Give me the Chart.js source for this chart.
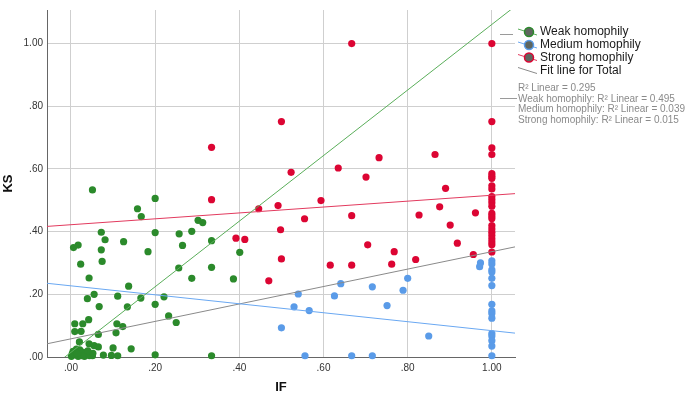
<!DOCTYPE html>
<html>
<head>
  <title>KS vs IF by homophily</title>
  <script src="https://cdn.jsdelivr.net/npm/chart.js"></script>
</head>
<body style="margin:0;background:#fff;">
  <canvas id="scatterChart" width="685" height="395"></canvas>

  <script>
    // Weak homophily (green)
    const weakIF = [0.051, 0.200, 0.158, 0.167, 0.072, 0.200, 0.081, 0.125, 0.006, 0.017, 0.072, 0.183, 0.074, 0.023,
      0.043, 0.137, 0.055, 0.039, 0.111, 0.166, 0.221, 0.067, 0.134, 0.200, 0.042, 0.009, 0.028, 0.109, 0.123, 0.009,
      0.024, 0.107, 0.065, 0.020, 0.043, 0.055, 0.065, 0.100, 0.143, 0.077, 0.111, 0.200, 0.051,
      0.005, 0.013, 0.021, 0.029, 0.036, 0.009, 0.017, 0.024, 0.032, 0.001, 0.044, 0.052, 0.096, 0.003, 0.014, 0.040,
      0.302, 0.313, 0.257, 0.287, 0.265, 0.334, 0.401, 0.256, 0.334, 0.287, 0.386, 0.232, 0.250, 0.334];
    const weakKS = [0.533, 0.506, 0.473, 0.448, 0.398, 0.397, 0.374, 0.368, 0.349, 0.357, 0.342, 0.336, 0.305, 0.296,
      0.252, 0.226, 0.200, 0.186, 0.194, 0.188, 0.192, 0.161, 0.160, 0.168, 0.119, 0.106, 0.106, 0.106, 0.097, 0.081,
      0.082, 0.077, 0.072, 0.048, 0.042, 0.036, 0.032, 0.029, 0.026, 0.006, 0.004, 0.007, 0.004,
      0.018, 0.025, 0.023, 0.015, 0.012, 0.007, 0.002, 0.004, 0.002, 0.002, 0.004, 0.012, 0.005, 0.010, 0.012, 0.020,
      0.436, 0.429, 0.393, 0.401, 0.356, 0.371, 0.334, 0.284, 0.286, 0.251, 0.249, 0.131, 0.110, 0.004];

    // Medium homophily (blue)
    const mediumIF = [1, 1, 1, 1, 1, 1, 1, 1, 1, 1, 1, 1, 1, 1, 1,
      0.973, 0.971, 0.800, 0.641, 0.716, 0.789, 0.540, 0.626, 0.530, 0.566, 0.751, 0.500, 0.850, 0.556, 0.667, 0.716];
    const mediumKS = [0.307, 0.297, 0.278, 0.271, 0.251, 0.228, 0.168, 0.147, 0.139, 0.124, 0.075, 0.067, 0.052, 0.035, 0.004,
      0.300, 0.288, 0.251, 0.234, 0.224, 0.213, 0.201, 0.195, 0.160, 0.148, 0.164, 0.093, 0.067, 0.004, 0.004, 0.004];

    // Strong homophily (red)
    const strongIF = [1, 1, 1, 1, 1, 1, 1, 1, 1, 1, 1, 1, 1, 1, 1, 1, 1, 1, 1, 1, 1, 1, 1, 1,
      0.334, 0.334, 0.446, 0.492, 0.392, 0.413, 0.498, 0.470, 0.500, 0.667, 0.500, 0.523, 0.732, 0.635, 0.701, 0.594,
      0.555, 0.667, 0.827, 0.705, 0.768, 0.616, 0.667, 0.762, 0.819, 0.865, 0.890, 0.876, 0.961, 0.901, 0.918, 0.956];
    const strongKS = [1.000, 0.751, 0.667, 0.646, 0.585, 0.577, 0.570, 0.546, 0.536, 0.512, 0.502, 0.492, 0.481, 0.458,
      0.450, 0.442, 0.419, 0.408, 0.398, 0.388, 0.377, 0.367, 0.358, 0.335,
      0.669, 0.502, 0.473, 0.483, 0.379, 0.375, 0.406, 0.243, 0.313, 1.000, 0.751, 0.589, 0.636, 0.603, 0.574, 0.499,
      0.441, 0.451, 0.453, 0.358, 0.336, 0.293, 0.293, 0.296, 0.311, 0.646, 0.538, 0.479, 0.460, 0.421, 0.363, 0.327];

    // linear fit lines: weak, medium, strong, total
    const fitNames = ['Weak homophily', 'Medium homophily', 'Strong homophily', 'Fit line for Total'];
    const fitIntercepts = [0.015, 0.227, 0.422, 0.058];
    const fitSlopes = [1.046, -0.143, 0.094, 0.278];
    const r2Labels = ['R\u00b2 Linear = 0.295', 'Weak homophily: R\u00b2 Linear = 0.495',
      'Medium homophily: R\u00b2 Linear = 0.039', 'Strong homophily: R\u00b2 Linear = 0.015'];

    const xMin = -0.057, xMax = 1.055;
    const pointColors = ['#2b8a2b', '#5a9be8', '#dc0533'];
    const lineColors = ['#5aae5a', '#6aa8f2', '#e23a5e', '#8a8a8a'];

    function toPoints(xs, ys) {
      return xs.map((x, i) => ({ x, y: ys[i] }));
    }

    function fitLine(i) {
      return [xMin, xMax].map(x => ({ x, y: fitIntercepts[i] + fitSlopes[i] * x }));
    }

    const fmt = v => v.toFixed(2).replace(/^0/, '');

    const legendPlugin = {
      id: 'spssLegend',
      afterDraw(chart) {
        const ctx = chart.ctx;
        const rows = [32, 45, 57.5, 70.5];
        ctx.save();
        rows.forEach((y, i) => {
          ctx.strokeStyle = lineColors[i];
          ctx.lineWidth = 1;
          ctx.beginPath();
          ctx.moveTo(518, y - 3);
          ctx.lineTo(537, y + 3);
          ctx.stroke();
          if (i < 3) {
            ctx.beginPath();
            ctx.arc(529, y, 4.5, 0, Math.PI * 2);
            ctx.fillStyle = '#5f665f';
            ctx.fill();
            ctx.strokeStyle = pointColors[i];
            ctx.lineWidth = 1.5;
            ctx.stroke();
          }
          ctx.fillStyle = '#1a1a1a';
          ctx.font = '12px "Liberation Sans", Arial, sans-serif';
          ctx.textBaseline = 'middle';
          ctx.textAlign = 'left';
          ctx.fillText(fitNames[i], 540, y);
        });
        // small leader lines
        ctx.strokeStyle = '#9a9a9a';
        ctx.lineWidth = 1;
        ctx.beginPath();
        ctx.moveTo(500, 34.5); ctx.lineTo(513, 34.5);
        ctx.moveTo(500, 98.5); ctx.lineTo(517, 98.5);
        ctx.stroke();
        ctx.fillStyle = '#8a8a8a';
        ctx.font = '10px "Liberation Sans", Arial, sans-serif';
        const r2Y = [88, 99, 109.5, 120];
        r2Labels.forEach((t, i) => ctx.fillText(t, 518, r2Y[i]));
        ctx.restore();
      }
    };

    const scatterSets = [
      ['Weak homophily', weakIF, weakKS],
      ['Medium homophily', mediumIF, mediumKS],
      ['Strong homophily', strongIF, strongKS]
    ].map(([label, xs, ys], i) => ({
      type: 'scatter',
      label,
      data: toPoints(xs, ys),
      backgroundColor: pointColors[i],
      borderColor: pointColors[i],
      borderWidth: 0,
      pointRadius: 3.6,
      clip: false,
      order: 2
    }));

    const lineSets = fitNames.map((name, i) => ({
      type: 'line',
      label: name,
      data: fitLine(i),
      borderColor: lineColors[i],
      borderWidth: 1,
      pointRadius: 0,
      fill: false,
      order: 1
    }));

    const tickFont = { family: '"Liberation Sans", Arial, sans-serif', size: 10 };
    const titleFont = { family: '"Liberation Sans", Arial, sans-serif', size: 13, weight: 'bold' };

    new Chart(document.getElementById('scatterChart'), {
      data: { datasets: [...scatterSets, ...lineSets] },
      options: {
        responsive: false,
        animation: false,
        layout: { padding: { top: 3, right: 170, bottom: 0, left: 0 } },
        plugins: {
          legend: { display: false },
          tooltip: { enabled: false }
        },
        scales: {
          x: {
            type: 'linear',
            min: xMin,
            max: xMax,
            afterFit: s => { s.height = 38; },
            grid: { color: '#cfcfcf', drawTicks: false },
            border: { color: '#666', width: 1 },
            ticks: { stepSize: 0.2, includeBounds: false, color: '#333', font: tickFont, padding: 5, callback: fmt },
            title: { display: true, text: 'IF', color: '#111', font: titleFont, padding: 0 }
          },
          y: {
            type: 'linear',
            min: 0,
            max: 1.107,
            afterFit: s => { s.width = 47; },
            grid: { color: '#cfcfcf', drawTicks: false },
            border: { color: '#666', width: 1 },
            ticks: { stepSize: 0.2, includeBounds: false, color: '#333', font: tickFont, padding: 4, callback: fmt },
            title: { display: true, text: 'KS', color: '#111', font: titleFont, padding: { top: 1 } }
          }
        }
      },
      plugins: [legendPlugin]
    });
  </script>
</body>
</html>
